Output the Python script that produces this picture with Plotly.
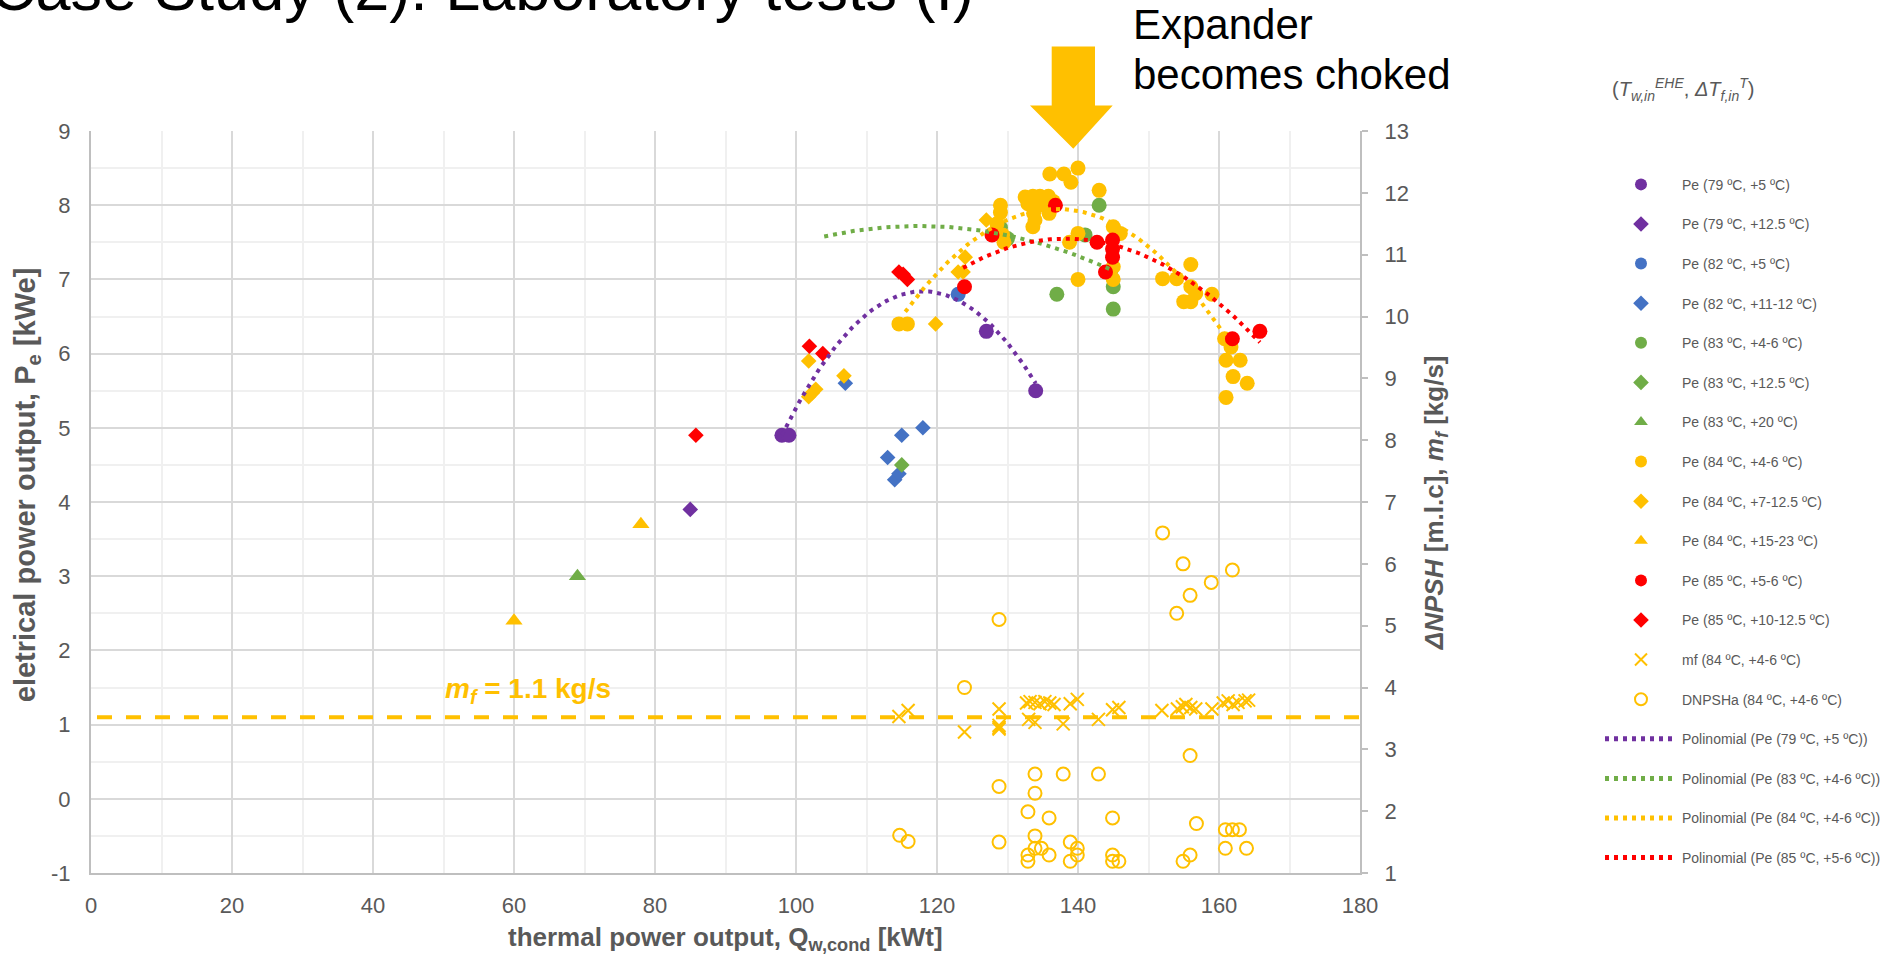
import numpy as np
import plotly.graph_objects as go

FONT = "Liberation Sans, Arial, sans-serif"
GREY = "#595959"
PURPLE, BLUE, GREEN, YELLOW, RED = "#7030A0", "#4472C4", "#70AD47", "#FFC000", "#FF0000"

# ---------------- data ----------------
pe79_5_x = [98.0, 99.0, 127.0, 134.0]
pe79_5_y = [4.9, 4.9, 6.3, 5.5]
pe79_12_x = [85.0]
pe79_12_y = [3.9]
pe82_5_x = [123.0]
pe82_5_y = [6.8]
pe82_11_x = [107.0, 113.0, 114.0, 114.6, 115.0, 118.0]
pe82_11_y = [5.6, 4.6, 4.3, 4.38, 4.9, 5.0]
pe83_4_x = [129.0, 130.0, 137.0, 141.0, 143.0, 145.0, 145.0, 144.6]
pe83_4_y = [7.7, 7.55, 6.8, 7.6, 8.0, 6.9, 6.6, 7.1]
pe83_12_x = [115.0]
pe83_12_y = [4.5]
pe83_20_x = [69.0]
pe83_20_y = [3.0]
pe84_4_x = [114.6, 115.8, 129.0, 129.0, 128.5, 129.3, 129.5,
            132.5, 133.6, 134.6, 135.8, 132.9, 134.5, 135.6, 133.7, 135.9, 133.9, 133.6, 136.5,
            136.0, 138.0, 139.0, 140.0, 143.0, 138.8, 140.0, 140.0,
            145.0, 146.0, 145.0, 145.0,
            152.0, 154.0, 156.0, 156.0, 155.0, 156.0, 156.7, 159.0,
            160.8, 161.7, 161.0, 163.0, 162.0, 164.0, 161.0]
pe84_4_y = [6.4, 6.4, 8.0, 7.9, 7.75, 7.6, 7.5,
            8.11, 8.12, 8.12, 8.12, 8.02, 8.0, 7.98, 7.89, 7.89, 7.8, 7.71, 8.05,
            8.42, 8.42, 8.31, 8.5, 8.2, 7.5, 7.62, 7.0,
            7.71, 7.62, 7.17, 7.0,
            7.01, 7.01, 7.2, 6.9, 6.7, 6.7, 6.81, 6.8,
            6.2, 6.09, 5.91, 5.91, 5.69, 5.6, 5.41]
pe84_7_x = [101.8, 101.8, 102.3, 102.8, 106.8, 119.8, 123.0, 123.7, 124.0, 127.0]
pe84_7_y = [5.9, 5.42, 5.47, 5.52, 5.7, 6.4, 7.1, 7.1, 7.3, 7.8]
pe84_15_x = [60.0, 78.0]
pe84_15_y = [2.4, 3.7]
pe85_5_x = [123.9, 127.8, 136.8, 142.7, 144.9, 144.9, 144.9, 143.9, 161.9, 165.8]
pe85_5_y = [6.9, 7.6, 8.0, 7.5, 7.53, 7.41, 7.3, 7.1, 6.2, 6.3]
pe85_10_x = [85.8, 101.9, 103.8, 114.6, 115.2, 115.8]
pe85_10_y = [4.9, 6.1, 6.0, 7.1, 7.07, 7.0]

mf_x = [114.6, 115.9, 123.9, 128.8, 128.8, 128.8, 128.8,
        132.7, 133.2, 133.9, 134.6, 135.3, 136.0, 136.6,
        133.0, 133.9, 137.9, 138.9, 139.9, 142.9, 144.9, 145.8,
        151.9, 154.1, 154.8, 155.3, 156.0, 156.7, 159.0,
        160.6, 161.3, 162.0, 162.7, 163.7, 164.2]
mf_y = [1.11, 1.19, 0.90, 1.21, 0.99, 0.96, 0.94,
        1.29, 1.31, 1.30, 1.28, 1.31, 1.29, 1.27,
        1.07, 1.03, 1.01, 1.28, 1.34, 1.07, 1.20, 1.23,
        1.19, 1.21, 1.24, 1.27, 1.23, 1.21, 1.21,
        1.29, 1.32, 1.27, 1.30, 1.32, 1.33]

dnpsh_x = [114.7, 115.9, 123.9, 128.8, 128.8, 128.8,
           133.9, 133.9, 132.9, 135.9, 133.9, 132.9, 132.9, 133.9, 134.8, 135.9,
           137.9, 138.9, 138.9, 139.9, 139.9, 142.9, 144.9, 144.9, 144.9, 145.8,
           152.0, 154.9, 154.0, 155.9, 158.9, 161.9, 155.9, 156.8, 154.9, 155.9,
           160.9, 161.9, 162.9, 160.9, 163.9]
dnpsh_y = [1.61, 1.51, 4.0, 5.1, 2.4, 1.5,
           2.6, 2.29, 1.99, 1.89, 1.60, 1.29, 1.19, 1.40, 1.40, 1.29,
           2.6, 1.5, 1.19, 1.40, 1.29, 2.6, 1.89, 1.29, 1.19, 1.19,
           6.5, 6.0, 5.2, 5.49, 5.7, 5.9, 2.9, 1.8, 1.19, 1.29,
           1.7, 1.7, 1.7, 1.40, 1.40]

mf_reference = 1.1  # kg/s

# polynomial (2nd order) trendlines: vertex x, vertex y, curvature, x from, x to
trend_names = ["Polinomial (Pe (79 ºC, +5 ºC))", "Polinomial (Pe (83 ºC, +4-6 ºC))",
               "Polinomial (Pe (84 ºC, +4-6 ºC))", "Polinomial (Pe (85 ºC, +5-6 ºC))"]
trend_peak_x = [118.0, 117.4, 137.0, 138.3]
trend_peak_y = [6.84, 7.72, 7.95, 7.55]
trend_curv = [-0.00485, -0.00079, -0.0030, -0.00185]
trend_x_from = [98.0, 104.0, 115.5, 123.7]
trend_x_to = [134.0, 144.6, 161.0, 165.8]
trend_colors = [PURPLE, GREEN, YELLOW, RED]

x_ticks = list(range(0, 181, 20))
y_ticks = list(range(-1, 10))
y2_ticks = list(range(1, 14))

# ---------------- figure ----------------
fig = go.Figure()

fig.add_trace(go.Scatter(x=[0.85, 180], y=[mf_reference, mf_reference], mode="lines",
                         line=dict(color=YELLOW, width=4, dash="15px,14px"),
                         showlegend=False, hoverinfo="skip"))

series = [
    ("Pe (79 ºC, +5 ºC)", pe79_5_x, pe79_5_y, PURPLE, "circle", 15),
    ("Pe (79 ºC, +12.5 ºC)", pe79_12_x, pe79_12_y, PURPLE, "diamond", 12),
    ("Pe (82 ºC, +5 ºC)", pe82_5_x, pe82_5_y, BLUE, "circle", 15),
    ("Pe (82 ºC, +11-12 ºC)", pe82_11_x, pe82_11_y, BLUE, "diamond", 12),
    ("Pe (83 ºC, +4-6 ºC)", pe83_4_x, pe83_4_y, GREEN, "circle", 15),
    ("Pe (83 ºC, +12.5 ºC)", pe83_12_x, pe83_12_y, GREEN, "diamond", 12),
    ("Pe (83 ºC, +20 ºC)", pe83_20_x, pe83_20_y, GREEN, "triangle-up", 15),
    ("Pe (84 ºC, +4-6 ºC)", pe84_4_x, pe84_4_y, YELLOW, "circle", 15),
    ("Pe (84 ºC, +7-12.5 ºC)", pe84_7_x, pe84_7_y, YELLOW, "diamond", 12),
    ("Pe (84 ºC, +15-23 ºC)", pe84_15_x, pe84_15_y, YELLOW, "triangle-up", 15),
    ("Pe (85 ºC, +5-6 ºC)", pe85_5_x, pe85_5_y, RED, "circle", 15),
    ("Pe (85 ºC, +10-12.5 ºC)", pe85_10_x, pe85_10_y, RED, "diamond", 12),
]
for i, (name, xs, ys, col, sym, sz) in enumerate(series):
    fig.add_trace(go.Scatter(x=xs, y=ys, mode="markers", name=name, legendgroup=f"g{i}",
                             marker=dict(color=col, symbol=sym, size=sz, line=dict(width=0))))

fig.add_trace(go.Scatter(x=mf_x, y=mf_y, mode="markers", name="mf (84 ºC, +4-6 ºC)",
                         legendgroup="g_mf",
                         marker=dict(symbol="x-thin-open", size=13, color=YELLOW,
                                     line=dict(color=YELLOW, width=2))))
fig.add_trace(go.Scatter(x=dnpsh_x, y=dnpsh_y, yaxis="y2", mode="markers",
                         name="DNPSHa (84 ºC, +4-6 ºC)", legendgroup="g_dn",
                         marker=dict(symbol="circle-open", size=13, color=YELLOW,
                                     line=dict(color=YELLOW, width=2))))

for k in range(4):
    tx = np.linspace(trend_x_from[k], trend_x_to[k], 120)
    ty = trend_peak_y[k] + trend_curv[k] * (tx - trend_peak_x[k]) ** 2
    fig.add_trace(go.Scatter(x=tx, y=ty, mode="lines", name=trend_names[k],
                             legendgroup=f"t{k}",
                             line=dict(color=trend_colors[k], width=4, dash="4px,5px")))

# ---------------- layout ----------------
L, R, T, B = 91, 1360, 130.6, 873
PW, PH = R - L, B - T


def px(x):
    return (x - L) / PW


def py(y):
    return (B - y) / PH


fig.update_layout(
    width=1904, height=957,
    margin=dict(l=L, r=1904 - R, t=T, b=957 - B, autoexpand=False),
    paper_bgcolor="white", plot_bgcolor="white",
    font=dict(family=FONT, color=GREY),
    xaxis=dict(range=[0, 180], tickvals=x_ticks, showgrid=True, gridcolor="#D9D9D9", gridwidth=1.5,
               minor=dict(dtick=10, showgrid=True, gridcolor="#F0F0F0", gridwidth=1.5),
               showline=True, linecolor="#BFBFBF", linewidth=2, zeroline=False,
               ticks="", tickfont=dict(size=22, color=GREY), ticklabelstandoff=12),
    yaxis=dict(range=[-1, 9], tickvals=y_ticks, ticktext=[str(v) for v in y_ticks],
               showgrid=True, gridcolor="#D9D9D9", gridwidth=1.5,
               minor=dict(dtick=0.5, showgrid=True, gridcolor="#F0F0F0", gridwidth=1.5),
               showline=True, linecolor="#BFBFBF", linewidth=2, zeroline=False,
               ticks="", tickfont=dict(size=22, color=GREY), ticklabelstandoff=14),
    yaxis2=dict(range=[1, 13], tickvals=y2_ticks, overlaying="y", side="right", showgrid=False,
                showline=True, linecolor="#BFBFBF", linewidth=2, zeroline=False,
                ticks="outside", ticklen=6, tickwidth=2, tickcolor="#BFBFBF",
                tickfont=dict(size=22, color=GREY), ticklabelstandoff=12),
    legend=dict(x=px(1600), y=py(168.4), xanchor="left", yanchor="top",
                font=dict(size=14, color=GREY), itemwidth=72, tracegroupgap=18.4,
                bgcolor="rgba(0,0,0,0)", itemsizing="constant"),
    showlegend=True,
)

annotations = [
    dict(text="Case Study (2): Laboratory tests (I)", x=px(-12), y=py(24.6), xanchor="left",
         yanchor="bottom", font=dict(size=63, color="black")),
    dict(text="Expander", x=px(1131), y=py(50), xanchor="left", yanchor="bottom",
         font=dict(size=42, color="black")),
    dict(text="becomes choked", x=px(1131), y=py(99.9), xanchor="left", yanchor="bottom",
         font=dict(size=42, color="black")),
    dict(text="(<i>T</i><sub><i>w,in</i></sub><sup><i>EHE</i></sup>, <i>ΔT</i><sub><i>f,in</i></sub><sup><i>T</i></sup>)",
         x=px(1683.5), y=py(89), xanchor="center", yanchor="middle",
         font=dict(size=20, color=GREY)),
    dict(text="<b>thermal power output, Q<sub>w,cond</sub> [kWt]</b>", x=px(725.5), y=py(938.6),
         xanchor="center", yanchor="middle", font=dict(size=26, color=GREY)),
    dict(text="<b>eletrical power output, P<sub>e</sub> [kWe]</b>", x=px(27), y=py(485),
         xanchor="center", yanchor="middle", textangle=-90, font=dict(size=29, color=GREY)),
    dict(text="<b><i>ΔNPSH</i> [m.l.c], <i>m</i><sub><i>f</i></sub> [kg/s]</b>", x=px(1435), y=py(503),
         xanchor="center", yanchor="middle", textangle=-90, font=dict(size=26, color=GREY)),
    dict(text="<b><i>m</i><sub><i>f</i></sub> = 1.1 kg/s</b>", x=62.0, y=1.465, xref="x", yref="y",
         xanchor="center", yanchor="middle", font=dict(size=28, color=YELLOW)),
]
for a in annotations:
    a.setdefault("xref", "paper")
    a.setdefault("yref", "paper")
    a["showarrow"] = False
fig.update_layout(annotations=annotations)

# big block arrow ("Expander becomes choked")
ax = [1051.7, 1095, 1095, 1112.7, 1073.3, 1030, 1051.7]
ay = [46, 46, 105, 105, 148.3, 105, 105]
path = "M" + " L".join(f"{px(a):.5f},{py(b):.5f}" for a, b in zip(ax, ay)) + " Z"
fig.add_shape(type="path", path=path, xref="paper", yref="paper",
              fillcolor=YELLOW, line=dict(width=0), layer="above")

fig.write_html("out.html")
